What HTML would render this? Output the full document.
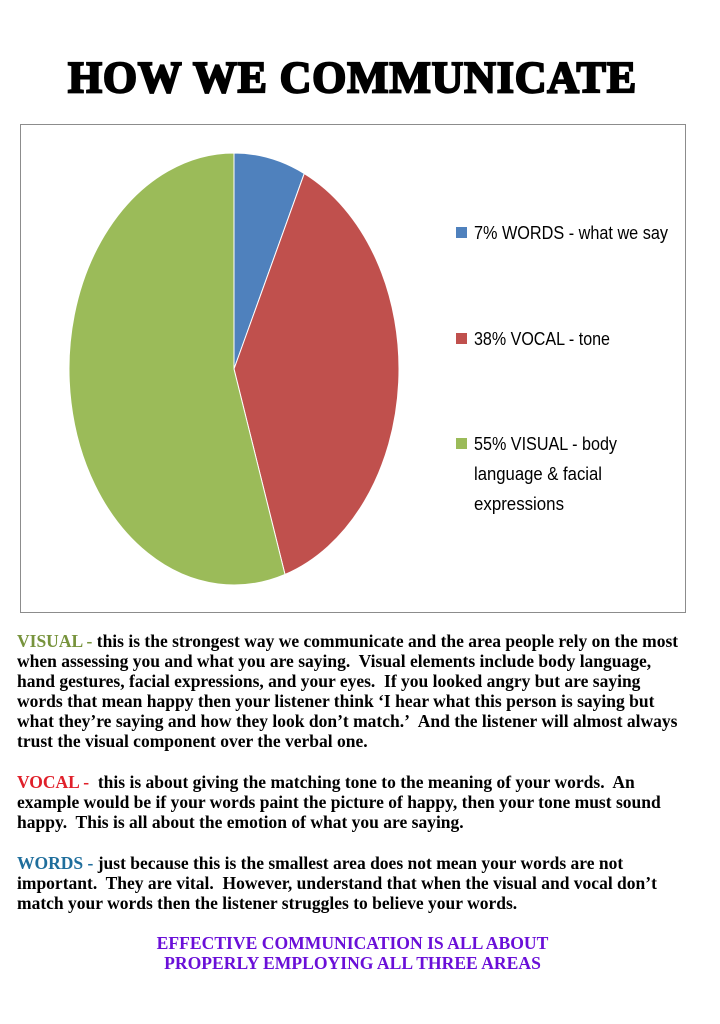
<!DOCTYPE html>
<html><head><meta charset="utf-8">
<style>
body{margin:0;width:720px;height:1024px;background:#fff;position:relative;overflow:hidden}
#title{position:absolute;left:0;top:52px;width:705px;text-align:center;font-family:"Liberation Serif",serif;font-weight:bold;font-size:44px;letter-spacing:1px;-webkit-text-stroke:2.2px #000;color:#000;white-space:nowrap}
#title span{display:inline-block}
#chart{position:absolute;left:20px;top:124px;width:664px;height:487px;border:1.5px solid #8c8c8c}
.txt{position:absolute;left:17px;width:710px;font-family:"Liberation Serif",serif;font-weight:bold;font-size:17.5px;line-height:20px;color:#000;white-space:nowrap}
.leg{font-family:"Liberation Sans",sans-serif;font-size:18px;fill:#000}
</style></head><body>
<div id="title"><span id="ts">HOW WE COMMUNICATE</span></div>
<div id="chart">
<svg id="svg" width="664" height="487" xmlns="http://www.w3.org/2000/svg"></svg>
</div>
<div class="txt" style="top:631px"><span style="color:#77933c">VISUAL - </span>this is the strongest way we communicate and the area people rely on the most<br>when assessing you and what you are saying.&nbsp; Visual elements include body language,<br>hand gestures, facial expressions, and your eyes.&nbsp; If you looked angry but are saying<br>words that mean happy then your listener think ‘I hear what this person is saying but<br>what they’re saying and how they look don’t match.’&nbsp; And the listener will almost always<br>trust the visual component over the verbal one.</div>
<div class="txt" style="top:772px"><span style="color:#e0202a">VOCAL - </span>&nbsp;this is about giving the matching tone to the meaning of your words.&nbsp; An<br>example would be if your words paint the picture of happy, then your tone must sound<br>happy.&nbsp; This is all about the emotion of what you are saying.</div>
<div class="txt" style="top:853px"><span style="color:#1f6e9c">WORDS - </span>just because this is the smallest area does not mean your words are not<br>important.&nbsp; They are vital.&nbsp; However, understand that when the visual and vocal don’t<br>match your words then the listener struggles to believe your words.</div>
<div class="txt" style="top:933px;left:0;width:705px;text-align:center;color:#6a0fd8;font-size:17.6px">EFFECTIVE COMMUNICATION IS ALL ABOUT<br>PROPERLY EMPLOYING ALL THREE AREAS</div>
<script>
const categories=["WORDS","VOCAL","VISUAL"];
const values=[7,38,55];
const legendLines=[["7% WORDS - what we say"],["38% VOCAL - tone"],["55% VISUAL - body","language & facial","expressions"]];
const legendWidths=[[194],[136],[143,128,90]];
const colors=["#4f81bd","#c0504d","#9bbb59"];
const svg=document.getElementById('svg');
const NS="http://www.w3.org/2000/svg";
const cx=213,cy=244,rx=165,ry=216;
const total=values.reduce((a,b)=>a+b,0);
function ang(v){return v/total*2*Math.PI;}
function pt(a){return [cx+rx*Math.sin(a),cy-ry*Math.cos(a)];}
let acc=0;
values.forEach((v,i)=>{
  const a0=ang(acc),a1=ang(acc+v);acc+=v;
  const p0=pt(a0),p1=pt(a1);
  const large=(a1-a0)>Math.PI?1:0;
  const p=document.createElementNS(NS,'path');
  p.setAttribute('d',`M${cx},${cy}L${p0[0]},${p0[1]}A${rx},${ry} 0 ${large} 1 ${p1[0]},${p1[1]}Z`);
  p.setAttribute('fill',colors[i]);p.setAttribute('stroke','#fff');p.setAttribute('stroke-width','1');
  
  
  svg.appendChild(p);
});
const legY=[110,216,321];
legendLines.forEach((lines,i)=>{
  const r=document.createElementNS(NS,'rect');
  r.setAttribute('x',435);r.setAttribute('y',legY[i]-8);r.setAttribute('width',11);r.setAttribute('height',11);r.setAttribute('fill',colors[i]);
  
  
  svg.appendChild(r);
  lines.forEach((l,j)=>{
    const t=document.createElementNS(NS,'text');
    t.setAttribute('x',453);t.setAttribute('y',legY[i]+4+j*30);t.setAttribute('class','leg');
    t.setAttribute('textLength',legendWidths[i][j]);t.setAttribute('lengthAdjust','spacingAndGlyphs');
    t.textContent=l;
    
    
    svg.appendChild(t);
  });
});
const ts=document.getElementById('ts');
const w=ts.getBoundingClientRect().width;
ts.style.transform='scaleX('+(569/w)+')';
</script>
</body></html>
